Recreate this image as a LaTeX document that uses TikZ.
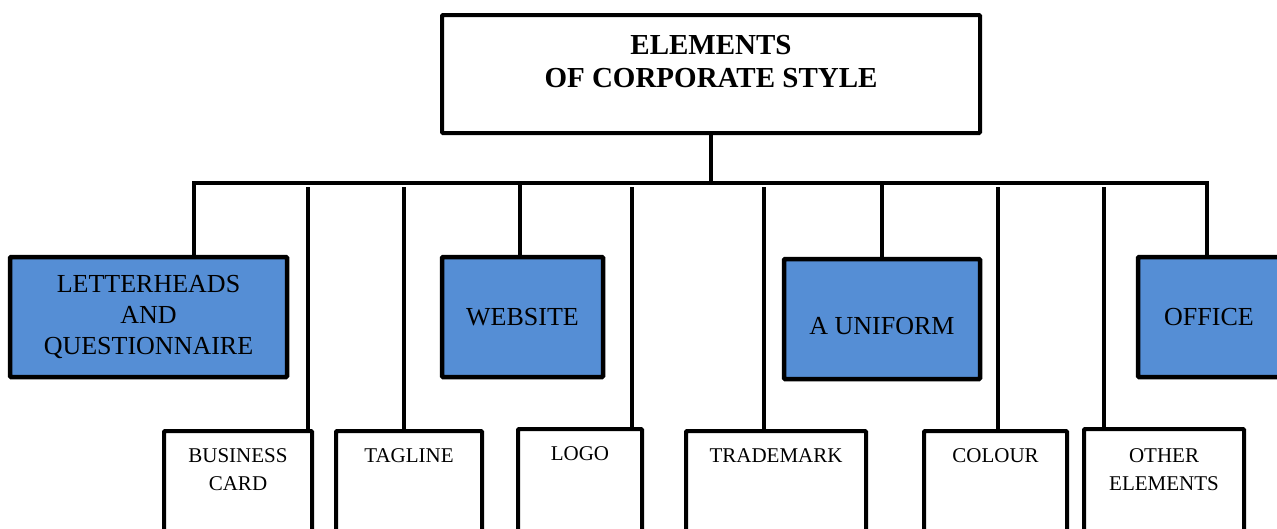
\documentclass[tikz,border=0pt]{standalone}
\usepackage{fontspec}
\setmainfont{Liberation Serif}
\usetikzlibrary{positioning}
\definecolor{palet1}{HTML}{558ED5}
\colorlet{cgroup}{palet1}
\colorlet{citem}{white}

\begin{document}
\begin{tikzpicture}[x=1pt, y=-1pt, line width=4pt,
  every node/.style={outer sep=0pt},
  topbox/.style={draw, rounded corners=1pt, minimum width=538pt, minimum height=118pt},
  groupbox/.style={draw, rounded corners=1pt, fill=cgroup, line width=4.5pt, align=center,
    minimum height=120pt, font=\fontsize{26}{31}\selectfont},
  itembox/.style={draw, rounded corners=1pt, fill=citem, anchor=north west, minimum height=140pt},
  itemtext/.style={anchor=north, inner sep=0pt, align=center, font=\fontsize{21}{28}\selectfont}]
  \useasboundingbox (0,0) rectangle (1277,528);
  \clip (0,0) rectangle (1277,528);

  \path
  (711,74) node[topbox] (top) {}
  (148.5,317) node[groupbox, minimum width=277pt] (letterheads) {LETTERHEADS\\AND\\QUESTIONNAIRE}
  (522.5,317) node[groupbox, minimum width=161pt] (website) {WEBSITE}
  (882,319) node[groupbox, minimum width=196pt, text height=31pt] (uniform) {A UNIFORM}
  (1209,317) node[groupbox, minimum width=142pt] (office) {OFFICE}
  (164,431) node[itembox, minimum width=148pt] (card) {}
  (336,431) node[itembox, minimum width=146pt] (tagline) {}
  (518,429) node[itembox, minimum width=124pt] (logo) {}
  (686,431) node[itembox, minimum width=180pt] (trademark) {}
  (924,431) node[itembox, minimum width=143pt] (colour) {}
  (1084,429) node[itembox, minimum width=160pt] (other) {}
  ;

  \node[anchor=north, inner sep=0pt, align=center, font=\bfseries\fontsize{29}{33}\selectfont,
    below=20pt of top.north] (title) {ELEMENTS\\OF CORPORATE STYLE};
  \node[itemtext, below=18pt of card.north] (card text) {BUSINESS\\CARD};
  \node[itemtext, below=18pt of tagline.north] (tagline text) {TAGLINE};
  \node[itemtext, below=18pt of logo.north] (logo text) {LOGO};
  \node[itemtext, below=18pt of trademark.north] (trademark text) {TRADEMARK};
  \node[itemtext, below=18pt of colour.north] (colour text) {COLOUR};
  \node[itemtext, below=20pt of other.north] (other text) {OTHER\\ELEMENTS};

  \coordinate (busl) at (194,183);
  \coordinate (busr) at (1207,183);
  \draw (top.south) -- (top.south |- busl);
  \draw (letterheads.north -| busl) -- (busl) -- (busr) -- (office.north -| busr);
  \foreach \n/\x in {website/520, uniform/882}
    \draw (\x,183) coordinate (b\n) -- (b\n |- \n.north);
  \foreach \n/\x in {card/308, tagline/404, logo/632, trademark/764, colour/998, other/1104}
    \draw (\x,187) coordinate (d\n) -- (d\n |- \n.north);
\end{tikzpicture}
\end{document}
